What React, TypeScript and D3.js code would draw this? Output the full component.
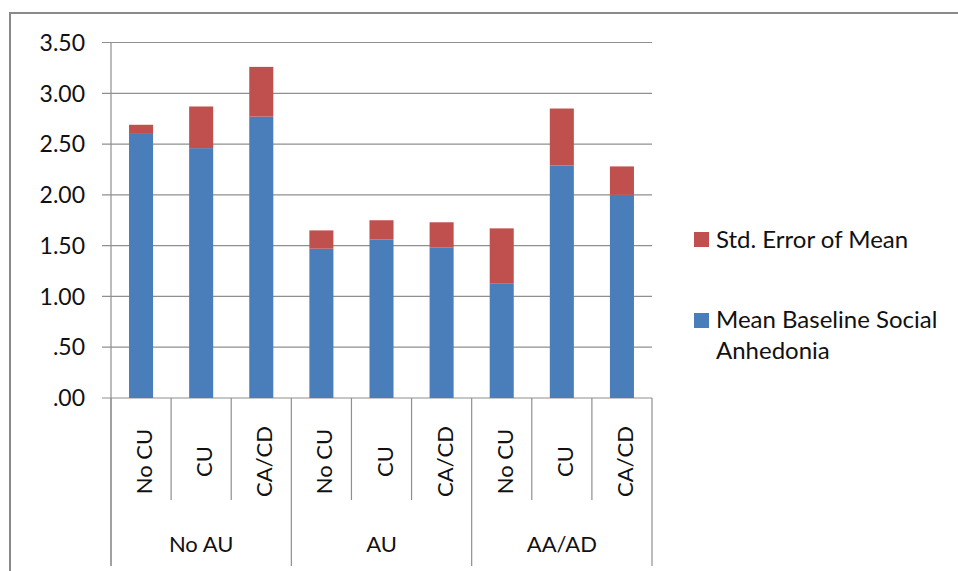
import React from "react";
import * as d3 from "d3";

// Sub-groups (cannabis use) within each alcohol-use group
const subCategories = ["No CU", "CU", "CA/CD", "No CU", "CU", "CA/CD", "No CU", "CU", "CA/CD"];
const groups = ["No AU", "AU", "AA/AD"];
const meanValues = [2.6, 2.46, 2.77, 1.47, 1.56, 1.48, 1.13, 2.29, 2.0];
const seValues = [0.09, 0.41, 0.49, 0.18, 0.19, 0.25, 0.54, 0.56, 0.28];
const yTicks = [0, 0.5, 1, 1.5, 2, 2.5, 3, 3.5];
const seriesNames = ["Std. Error of Mean", "Mean Baseline Social", "Anhedonia"];

const W = 958;
const H = 571;
const BLUE = "#4A7EBB";
const RED = "#C0504D";
const GRID = "#8f8f8f";
const TEXT = "#111";
const FONT = "Lato, 'Open Sans', sans-serif";

const fmt = (v: number) => {
  const s = v.toFixed(2);
  return s.startsWith("0") ? s.slice(1) : s;
};

export default function App() {
  const x = d3
    .scaleBand<number>()
    .domain(d3.range(subCategories.length))
    .range([111, 652])
    .paddingInner(0.6)
    .paddingOuter(0.3);
  const y = d3.scaleLinear().domain([0, 3.5]).range([398, 42.5]);
  const step = x.step();
  const left = x.range()[0];
  const boundary = (i: number) => left + i * step;

  const stacked = d3
    .stack<number>()
    .keys(["mean", "se"])
    .value((i, key) => (key === "mean" ? meanValues[i] : seValues[i]))(
    d3.range(subCategories.length)
  );

  return (
    <svg
      width={W}
      height={H}
      style={{ position: "absolute", left: 0, top: 0, background: "#fff" }}
      fontFamily={FONT}
    >
      {/* chart frame */}
      <line x1={9} x2={W} y1={13} y2={13} stroke="#8a8a8a" strokeWidth={2} />
      <line x1={10} x2={10} y1={12} y2={H} stroke="#8a8a8a" strokeWidth={2} />

      {/* gridlines and y ticks */}
      {yTicks.map((t) => (
        <g key={t}>
          <line x1={102} x2={652} y1={y(t)} y2={y(t)} stroke={GRID} strokeWidth={1.2} />
          <text x={85} y={y(t)} dy="0.36em" textAnchor="end" fontSize={23} fill={TEXT}>
            {fmt(t)}
          </text>
        </g>
      ))}
      <line x1={111} x2={111} y1={y(3.5)} y2={566} stroke={GRID} strokeWidth={1.2} />

      {/* stacked bars */}
      {stacked.map((layer) =>
        layer.map((d, i) => (
          <rect
            key={layer.key + i}
            x={x(i)}
            width={x.bandwidth()}
            y={y(d[1])}
            height={y(d[0]) - y(d[1])}
            fill={layer.key === "mean" ? BLUE : RED}
          />
        ))
      )}

      {/* category dividers */}
      {d3.range(subCategories.length + 1).map((i) => (
        <line
          key={"div" + i}
          x1={boundary(i)}
          x2={boundary(i)}
          y1={398}
          y2={i % 3 === 0 ? 566 : 500}
          stroke={GRID}
          strokeWidth={1.2}
        />
      ))}

      {/* sub-category labels */}
      {subCategories.map((c, i) => (
        <text
          key={"sc" + i}
          transform={`translate(${(x(i) as number) + x.bandwidth() / 2 + 11},461.5) rotate(-90)`}
          textAnchor="middle"
          fontSize={22}
          fill={TEXT}
        >
          {c}
        </text>
      ))}

      {/* group labels */}
      {groups.map((g, gi) => (
        <text
          key={g}
          x={(boundary(gi * 3) + boundary(gi * 3 + 3)) / 2}
          y={552}
          textAnchor="middle"
          fontSize={22}
          fill={TEXT}
        >
          {g}
        </text>
      ))}

      {/* legend */}
      <rect x={694} y={232} width={15} height={15} fill={RED} />
      <text x={716} y={248} fontSize={24} fill={TEXT}>
        {seriesNames[0]}
      </text>
      <rect x={694} y={313} width={15} height={15} fill={BLUE} />
      <text x={716} y={328} fontSize={24} fill={TEXT}>
        {seriesNames[1]}
      </text>
      <text x={716} y={359} fontSize={24} fill={TEXT}>
        {seriesNames[2]}
      </text>
    </svg>
  );
}
